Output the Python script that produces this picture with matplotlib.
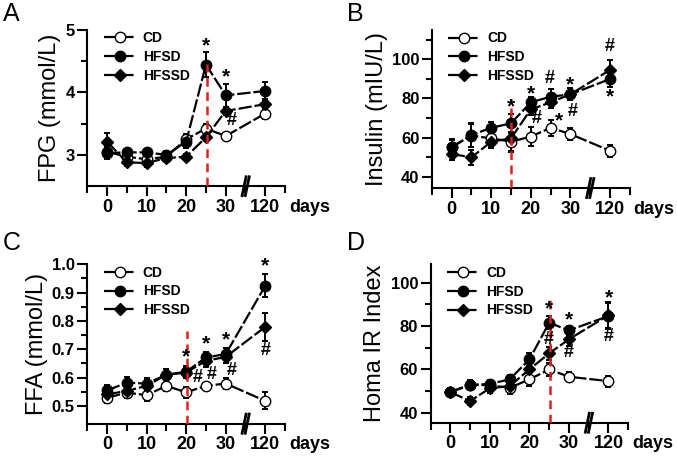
import matplotlib
matplotlib.use("Agg")
import matplotlib.pyplot as plt
import matplotlib.transforms as mtransforms
import numpy as np

plt.rcParams['font.family'] = ['Liberation Sans', 'DejaVu Sans']

# x positions of the time points (120 days drawn after an axis break)
days = [0, 5, 10, 15, 20, 25, 30, 40]
tick_pos = [0, 10, 20, 30, 40]
tick_labels = ['0', '10', '20', '30', '120']
groups = ['CD', 'HFSD', 'HFSSD']

# A: FPG (mmol/L)
fpg_cd = [3.05, 2.97, 2.93, 2.97, 3.25, 3.42, 3.30, 3.66]
fpg_cd_err = [0.08, 0.05, 0.05, 0.05, 0.08, 0.08, 0.04, 0.08]
fpg_hfsd = [3.03, 3.04, 3.04, 3.00, 3.21, 4.44, 3.95, 4.02]
fpg_hfsd_err = [0.10, 0.06, 0.06, 0.06, 0.10, 0.20, 0.18, 0.14]
fpg_hfssd = [3.21, 2.88, 2.87, 2.95, 2.97, 3.28, 3.70, 3.81]
fpg_hfssd_err = [0.14, 0.06, 0.06, 0.05, 0.05, 0.06, 0.06, 0.08]

# B: Insulin (mIU/L)
ins_cd = [55.3, 61.0, 59.6, 57.9, 60.5, 65.0, 61.8, 53.3]
ins_cd_err = [4, 6, 4, 5, 5, 4, 3, 3]
ins_hfsd = [55.0, 61.3, 65.0, 67.3, 78.0, 80.9, 82.1, 89.9]
ins_hfsd_err = [4, 6, 3, 5, 3, 4, 3, 4]
ins_hfssd = [51.6, 49.9, 57.9, 59.6, 74.4, 78.0, 82.1, 94.5]
ins_hfssd_err = [3, 4, 3, 7, 3, 3, 3, 5]

# C: FFA (mmol/L)
ffa_cd = [0.529, 0.547, 0.538, 0.571, 0.548, 0.571, 0.579, 0.518]
ffa_cd_err = [0.02, 0.02, 0.02, 0.02, 0.02, 0.01, 0.02, 0.03]
ffa_hfsd = [0.555, 0.582, 0.579, 0.610, 0.621, 0.671, 0.683, 0.924]
ffa_hfsd_err = [0.02, 0.02, 0.02, 0.02, 0.02, 0.02, 0.02, 0.04]
ffa_hfssd = [0.541, 0.553, 0.571, 0.610, 0.618, 0.659, 0.673, 0.779]
ffa_hfssd_err = [0.02, 0.02, 0.02, 0.02, 0.02, 0.02, 0.02, 0.05]

# D: Homa IR index
homa_cd = [49.6, 53.0, 52.7, 51.5, 55.4, 60.0, 56.6, 54.6]
homa_cd_err = [2, 2, 2, 3, 3, 3, 2, 2.5]
homa_hfsd = [49.5, 52.8, 53.3, 55.4, 64.6, 81.5, 78.0, 84.6]
homa_hfsd_err = [2, 2, 2, 2, 3, 3, 2, 6]
homa_hfssd = [49.5, 45.4, 51.3, 52.3, 60.0, 67.4, 73.9, 85.0]
homa_hfssd_err = [2, 2, 2, 3, 3, 3, 3, 6]

panels = [
    dict(letter='A', ylabel='FPG (mmol/L)',
         series=[(fpg_cd, fpg_cd_err), (fpg_hfsd, fpg_hfsd_err), (fpg_hfssd, fpg_hfssd_err)],
         ylim=(2.5, 5.0), major=[3, 4, 5], minor=[3.5, 4.5], fmt='{:g}',
         red=(25.2, 4.45),
         marks=[(25, 4.83, '*'), (30, 4.33, '*'), (31.6, 3.55, '#')]),
    dict(letter='B', ylabel='Insulin (mIU/L)',
         series=[(ins_cd, ins_cd_err), (ins_hfsd, ins_hfsd_err), (ins_hfssd, ins_hfssd_err)],
         ylim=(34.2, 115), major=[40, 60, 80, 100], minor=[50, 70, 90, 110], fmt='{:g}',
         red=(15.1, 79.5),
         marks=[(15, 78.3, '*'), (20, 85.2, '*'), (21.6, 69.9, '#'), (24.9, 90.3, '#'),
                (27.1, 71.5, '*'), (30, 89.8, '*'), (30.5, 73.2, '#'),
                (40, 106.5, '#'), (40, 83.5, '*')]),
    dict(letter='C', ylabel='FFA (mmol/L)',
         series=[(ffa_cd, ffa_cd_err), (ffa_hfsd, ffa_hfsd_err), (ffa_hfssd, ffa_hfssd_err)],
         ylim=(0.4375, 1.0), major=[0.5, 0.6, 0.7, 0.8, 0.9, 1.0],
         minor=[0.55, 0.65, 0.75, 0.85, 0.95], fmt='{:.1f}',
         red=(20.3, 0.765),
         marks=[(20, 0.692, '*'), (22.9, 0.60, '#'), (25, 0.738, '*'), (26.4, 0.612, '#'),
                (30, 0.753, '*'), (31.5, 0.624, '#'), (40, 1.015, '*'), (40, 0.694, '#')]),
    dict(letter='D', ylabel='Homa IR Index',
         series=[(homa_cd, homa_cd_err), (homa_hfsd, homa_hfsd_err), (homa_hfssd, homa_hfssd_err)],
         ylim=(35.4, 108.5), major=[40, 60, 80, 100], minor=[50, 70, 90], fmt='{:g}',
         red=(25.2, 93),
         marks=[(25, 90.3, '*'), (25, 73.9, '#'), (30, 85.4, '*'), (30, 67.7, '#'),
                (40, 95.4, '*'), (40, 75.4, '#')]),
]

rects = [
    [0.129, 0.597, 0.292, 0.339],
    [0.638, 0.593, 0.292, 0.342],
    [0.129, 0.083, 0.292, 0.345],
    [0.636, 0.085, 0.292, 0.343],
]
letter_pos = [(0.004, 0.995), (0.512, 0.995), (0.004, 0.50), (0.512, 0.50)]

styles = [
    dict(marker='o', mfc='white', ms=7.5),
    dict(marker='o', mfc='black', ms=7.5),
    dict(marker='D', mfc='black', ms=6.5),
]

fig = plt.figure(figsize=(6.77, 4.62), dpi=100)

for p, rect, lp in zip(panels, rects, letter_pos):
    ax = fig.add_axes(rect)
    handles = []
    for (vals, errs), st, name in zip(p['series'], styles, groups):
        ax.errorbar(days, vals, yerr=errs, fmt='none', ecolor='black',
                    elinewidth=1.4, capsize=2.5, capthick=1.4, zorder=2)
        h, = ax.plot(days, vals, color='black', lw=1.6, ls=(0, (6, 1.3)),
                     marker=st['marker'], ms=st['ms'], mfc=st['mfc'],
                     mec='black', mew=1.0, label=name, zorder=3)
        handles.append(h)

    rx, rtop = p['red']
    ax.plot([rx, rx], [p['ylim'][0], rtop], color='#e3201b', lw=1.8,
            ls=(0, (3.5, 2.2)), zorder=4)

    for mx, my, sym in p['marks']:
        if sym == '*':
            ax.annotate(sym, xy=(mx, my), xytext=(0, -4), textcoords='offset points',
                        ha='center', va='center', fontsize=15, fontweight='bold',
                        annotation_clip=False, zorder=5)
        else:
            ax.annotate(sym, xy=(mx, my), xytext=(0, 0), textcoords='offset points',
                        ha='center', va='center', fontsize=13, fontweight='bold',
                        annotation_clip=False, zorder=5)

    ax.set_xlim(-5, 45)
    ax.set_ylim(*p['ylim'])
    ax.spines['top'].set_visible(False)
    ax.spines['right'].set_visible(False)
    for s in ['left', 'bottom']:
        ax.spines[s].set_linewidth(1.5)
    ax.set_xticks(tick_pos)
    ax.set_xticklabels(tick_labels, fontsize=13, fontweight='bold')
    ax.set_xticks([-5, 5, 15, 25, 35, 45], minor=True)
    ax.set_yticks(p['major'])
    ax.set_yticklabels([p['fmt'].format(v) for v in p['major']],
                       fontsize=12, fontweight='bold')
    ax.set_yticks(p['minor'], minor=True)
    ax.tick_params(which='major', direction='out', length=7, width=1.5, pad=2)
    ax.tick_params(which='minor', direction='out', length=4.5, width=1.5)
    ax.tick_params(axis='x', which='minor', length=5)
    ax.set_ylabel(p['ylabel'], fontsize=17, labelpad=3)

    # axis break mark at the gap before 120 days
    trans = mtransforms.blended_transform_factory(ax.transData, ax.transAxes)
    for dx in (-0.45, 0.35):
        ax.plot([34.6 + dx, 35.6 + dx], [-0.06, 0.06], color='black', lw=2.0,
                transform=trans, clip_on=False, zorder=6)

    ax.annotate('days', xy=(46.0, 0), xycoords=trans, xytext=(0, -9),
                textcoords='offset points', ha='left', va='top',
                fontsize=13, fontweight='bold')

    ax.legend(handles=handles, loc='upper left', bbox_to_anchor=(0.02, 1.07),
              frameon=False, prop=dict(weight='bold', size=10),
              handlelength=2.3, handletextpad=0.5, labelspacing=0.35)

    fig.text(lp[0], lp[1], p['letter'], fontsize=18, ha='left', va='top')

fig.savefig('out.png', dpi=100)
